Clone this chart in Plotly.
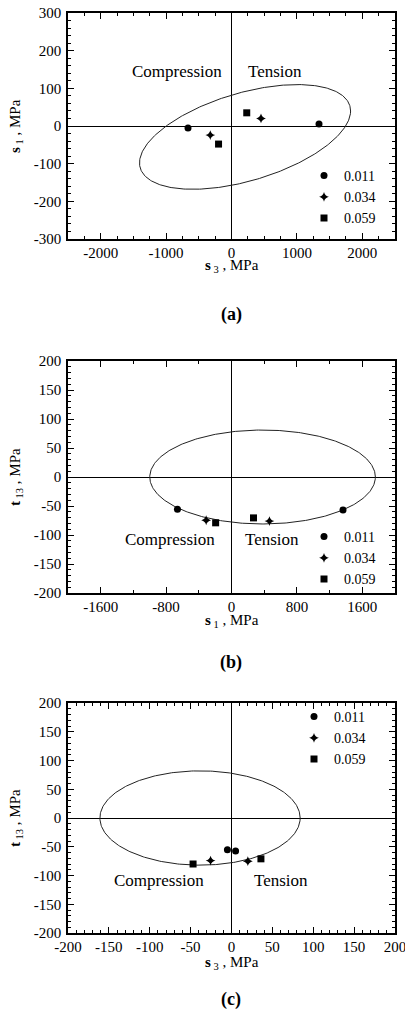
import numpy as np
import plotly.graph_objects as go

# ---------------- data ----------------
strain_labels = ["0.011", "0.034", "0.059"]

# panel (a): x = s3 axis, y = s1 axis ; values in MPa
a_x_011 = [-665, 1338]
a_y_011 = [-5, 5]
a_x_034 = [-324, 451]
a_y_034 = [-24, 20]
a_x_059 = [-198, 233]
a_y_059 = [-48, 35]

# panel (b): x = s1, y = t13
b_x_011 = [-661, 1364]
b_y_011 = [-55.6, -57]
b_x_034 = [-310, 464]
b_y_034 = [-74.6, -76]
b_x_059 = [-194, 269]
b_y_059 = [-79, -70.5]

# panel (c): x = s3, y = t13
c_x_011 = [-5, 5]
c_y_011 = [-55, -57.4]
c_x_034 = [-25.6, 20]
c_y_034 = [-74, -75]
c_x_059 = [-47, 36]
c_y_059 = [-80, -71]

# tick values / labels
a_xticks = [-2000, -1000, 0, 1000, 2000]
a_yticks = [-300, -200, -100, 0, 100, 200, 300]
b_xticks = [-1600, -800, 0, 800, 1600]
bc_yticks = [-200, -150, -100, -50, 0, 50, 100, 150, 200]
c_xticks = [-200, -150, -100, -50, 0, 50, 100, 150, 200]

# failure envelopes (centre, semi-axes, phase)
ell_a_center = (207, -29)
ell_a_axes = (1614, 139)
ell_a_phase = 1.053
ell_b_center = (380, 0)
ell_b_axes = (1380, 81)
ell_c_center = (-38.5, 0)
ell_c_axes = (122.5, 82)

# ---------------- styling ----------------
FONT = "Liberation Serif"
W, H = 405, 1014
symbols = ["circle", "star-diamond", "square"]
sizes = [7, 7, 7]


def px_x(p):
    return p / W


def px_y(p):
    return 1 - p / H


XD = [px_x(68), px_x(395)]
YD = {
    "a": [px_y(239), px_y(13)],
    "b": [px_y(593), px_y(361)],
    "c": [px_y(933), px_y(703)],
}

fig = go.Figure()

t = np.linspace(0, 2 * np.pi, 400)


def ellipse(center, axes, phase=None):
    cx, cy = center
    a, b = axes
    if phase is None:
        return cx + a * np.cos(t), cy + b * np.sin(t)
    return cx + a * np.cos(t), cy + b * np.cos(t - phase)


panels = [
    ("x", "y", "legend",
     [(a_x_011, a_y_011), (a_x_034, a_y_034), (a_x_059, a_y_059)],
     ellipse(ell_a_center, ell_a_axes, ell_a_phase)),
    ("x2", "y2", "legend2",
     [(b_x_011, b_y_011), (b_x_034, b_y_034), (b_x_059, b_y_059)],
     ellipse(ell_b_center, ell_b_axes)),
    ("x3", "y3", "legend3",
     [(c_x_011, c_y_011), (c_x_034, c_y_034), (c_x_059, c_y_059)],
     ellipse(ell_c_center, ell_c_axes)),
]

for xa, ya, lg, series, (ex, ey) in panels:
    fig.add_trace(go.Scatter(x=ex, y=ey, mode="lines", xaxis=xa, yaxis=ya,
                             line=dict(color="#222", width=1), showlegend=False,
                             hoverinfo="skip"))
    for i, (sx, sy) in enumerate(series):
        fig.add_trace(go.Scatter(x=sx, y=sy, mode="markers", xaxis=xa, yaxis=ya,
                                 name=strain_labels[i], legend=lg,
                                 marker=dict(symbol=symbols[i], size=sizes[i],
                                             color="black")))

axis_common = dict(
    showgrid=False, zeroline=True, zerolinecolor="black", zerolinewidth=1,
    showline=True, linecolor="black", linewidth=1.5, mirror="ticks",
    ticks="inside", ticklen=6, tickwidth=1.2, tickcolor="black", automargin=False,
    ticklabeloverflow="allow",
    tickfont=dict(family=FONT, size=15, color="black"),
)


def tk(vals):
    return dict(tickmode="array", tickvals=vals, ticktext=[str(v) for v in vals])


def mn(d):
    return dict(dtick=d, ticks="inside", ticklen=3, tickcolor="black")


fig.update_layout(
    xaxis=dict(domain=XD, anchor="y", range=[-2500, 2500], minor=mn(250),
               ticklabelstandoff=-1, **tk(a_xticks), **axis_common),
    yaxis=dict(domain=YD["a"], anchor="x", range=[-300, 300], minor=mn(20),
               ticklabelstandoff=2, **tk(a_yticks), **axis_common),
    xaxis2=dict(domain=XD, anchor="y2", range=[-2000, 2000], minor=mn(400),
                ticklabelstandoff=-1, **tk(b_xticks), **axis_common),
    yaxis2=dict(domain=YD["b"], anchor="x2", range=[-200, 200], minor=mn(10),
                ticklabelstandoff=2, **tk(bc_yticks), **axis_common),
    xaxis3=dict(domain=XD, anchor="y3", range=[-200, 200.01], minor=mn(10),
                ticklabelstandoff=-1, **tk(c_xticks), **axis_common),
    yaxis3=dict(domain=YD["c"], anchor="x3", range=[-200, 200], minor=mn(10),
                ticklabelstandoff=2, **tk(bc_yticks), **axis_common),
)

leg_common = dict(bgcolor="rgba(0,0,0,0)", font=dict(family=FONT, size=14, color="black"),
                  xanchor="left", yanchor="top", itemsizing="trace", tracegroupgap=0,
                  borderwidth=0)
fig.update_layout(
    legend=dict(x=px_x(304), y=px_y(160), **leg_common),
    legend2=dict(x=px_x(304), y=px_y(521), **leg_common),
    legend3=dict(x=px_x(294), y=px_y(701), **leg_common),
)

ann = []
tfont = dict(family=FONT, size=17, color="black")
# region labels
ann += [
    dict(text="Compression", x=-829, y=146, xref="x", yref="y", showarrow=False, font=tfont),
    dict(text="Tension", x=667, y=146, xref="x", yref="y", showarrow=False, font=tfont),
    dict(text="Compression", x=-748, y=-108, xref="x2", yref="y2", showarrow=False, font=tfont),
    dict(text="Tension", x=493, y=-108, xref="x2", yref="y2", showarrow=False, font=tfont),
    dict(text="Compression", x=-89, y=-108, xref="x3", yref="y3", showarrow=False, font=tfont),
    dict(text="Tension", x=60, y=-108, xref="x3", yref="y3", showarrow=False, font=tfont),
]
afont = dict(family=FONT, size=15, color="black")
# axis titles
for xt, yt, xc, yc in [
    ("<b>s</b><sub> 3</sub> , MPa", "<b>s</b><sub> 1</sub> , MPa", 126, 266),
    ("<b>s</b><sub> 1</sub> , MPa", "<b>t</b><sub> 13</sub> , MPa", 477, 621),
    ("<b>s</b><sub> 3</sub> , MPa", "<b>t</b><sub> 13</sub> , MPa", 818, 963),
]:
    ann.append(dict(text=xt, x=px_x(232), y=px_y(yc), xref="paper", yref="paper",
                    showarrow=False, font=afont, xanchor="center", yanchor="middle"))
    ann.append(dict(text=yt, x=px_x(16), y=px_y(xc), xref="paper", yref="paper",
                    showarrow=False, font=afont, textangle=-90,
                    xanchor="center", yanchor="middle"))
# panel letters
for lab, yy in [("(a)", 315), ("(b)", 662), ("(c)", 999)]:
    ann.append(dict(text="<b>" + lab + "</b>", x=px_x(231), y=px_y(yy), xref="paper",
                    yref="paper", showarrow=False,
                    font=dict(family=FONT, size=18, color="black"),
                    xanchor="center", yanchor="middle"))

fig.update_layout(
    annotations=ann,
    width=W, height=H,
    margin=dict(l=0, r=0, t=0, b=0),
    paper_bgcolor="white", plot_bgcolor="white",
    font=dict(family=FONT, color="black"),
)

fig.write_html("out.html",
               config={"displayModeBar": False},
               post_script="document.body.style.margin='0';document.body.style.overflow='hidden';")
